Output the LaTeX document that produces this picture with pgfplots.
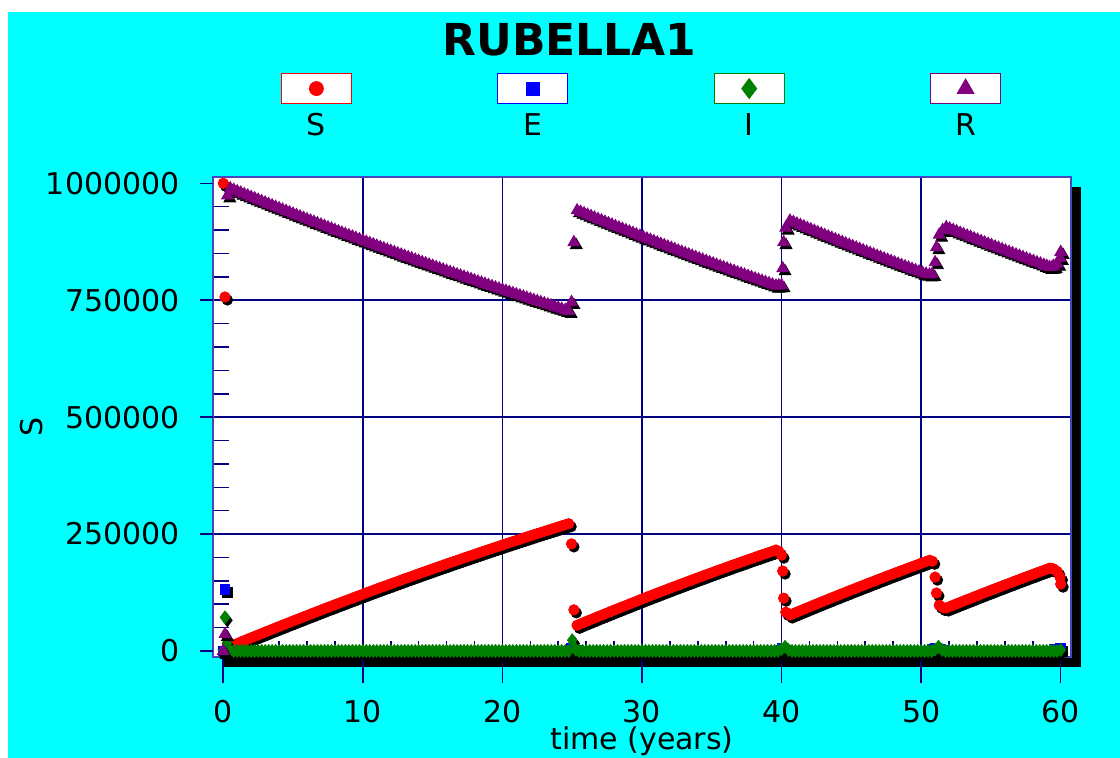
\documentclass[border=0pt]{standalone}
\usepackage{fontspec}
\setmainfont{DejaVu Sans}
\usepackage{pgfplots}
\pgfplotsset{compat=1.18}
\usepackage{pgfplotstable}
\definecolor{bgcyan}{RGB}{0,255,255}
\definecolor{navyc}{RGB}{0,0,128}
\definecolor{framec}{RGB}{70,70,190}
\definecolor{sred}{RGB}{255,0,0}
\definecolor{eblue}{RGB}{0,0,255}
\definecolor{igreen}{RGB}{0,128,0}
\definecolor{rpurple}{RGB}{128,0,128}
\newcommand{\lblfont}{\fontsize{15}{18}\selectfont}
\newcommand{\titlefont}{\fontsize{22}{26}\selectfont\bfseries}

\pgfplotstableread[row sep=\\]{
t v\\
0 1000000\\ 0.12 757000\\ 0.25 8000\\
0.5 10000\\ 0.75 13100\\ 1.0 16100\\ 1.25 19200\\ 1.5 22300\\ 1.75 25300\\ 2.0 28400\\ 2.25 31400\\
2.5 34400\\ 2.75 37400\\ 3.0 40400\\ 3.25 43400\\ 3.5 46400\\ 3.75 49400\\ 4.0 52400\\ 4.25 55400\\
4.5 58300\\ 4.75 61300\\ 5.0 64200\\ 5.25 67200\\ 5.5 70100\\ 5.75 73000\\ 6.0 75900\\ 6.25 78800\\
6.5 81700\\ 6.75 84600\\ 7.0 87500\\ 7.25 90400\\ 7.5 93300\\ 7.75 96100\\ 8.0 99000\\ 8.25 101800\\
8.5 104600\\ 8.75 107500\\ 9.0 110300\\ 9.25 113100\\ 9.5 115900\\ 9.75 118700\\ 10.0 121500\\ 10.25 124300\\
10.5 127100\\ 10.75 129850\\ 11.0 132600\\ 11.25 135350\\ 11.5 138100\\ 11.75 140800\\ 12.0 143500\\ 12.25 146250\\
12.5 149000\\ 12.75 151700\\ 13.0 154400\\ 13.25 157050\\ 13.5 159700\\ 13.75 162400\\ 14.0 165100\\ 14.25 167750\\
14.5 170400\\ 14.75 173000\\ 15.0 175600\\ 15.25 178250\\ 15.5 180900\\ 15.75 183500\\ 16.0 186100\\ 16.25 188700\\
16.5 191300\\ 16.75 193850\\ 17.0 196400\\ 17.25 198950\\ 17.5 201500\\ 17.75 204050\\ 18.0 206600\\ 18.25 209150\\
18.5 211700\\ 18.75 214200\\ 19.0 216700\\ 19.25 219200\\ 19.5 221700\\ 19.75 224200\\ 20.0 226700\\ 20.25 229150\\
20.5 231600\\ 20.75 234050\\ 21.0 236500\\ 21.25 238950\\ 21.5 241400\\ 21.75 243800\\ 22.0 246200\\ 22.25 248600\\
22.5 251000\\ 22.75 253400\\ 23.0 255800\\ 23.25 258150\\ 23.5 260500\\ 23.75 262850\\ 24.0 265200\\ 24.25 267550\\
24.5 269900\\ 24.75 272200\\
24.95 229000\\ 25.12 88000\\
25.35 55000\\ 25.6 58100\\ 25.85 61200\\ 26.1 64300\\ 26.35 67350\\ 26.6 70400\\ 26.85 73500\\ 27.1 76500\\
27.35 79500\\ 27.6 82600\\ 27.85 85600\\ 28.1 88600\\ 28.35 91600\\ 28.6 94550\\ 28.85 97500\\ 29.1 100450\\
29.35 103400\\ 29.6 106350\\ 29.85 109300\\ 30.1 112250\\ 30.35 115200\\ 30.6 118050\\ 30.85 120900\\ 31.1 123800\\
31.35 126700\\ 31.6 129550\\ 31.85 132400\\ 32.1 135250\\ 32.35 138100\\ 32.6 140900\\ 32.85 143700\\ 33.1 146500\\
33.35 149300\\ 33.6 152100\\ 33.85 154900\\ 34.1 157650\\ 34.35 160400\\ 34.6 163150\\ 34.85 165900\\ 35.1 168600\\
35.35 171300\\ 35.6 174000\\ 35.85 176700\\ 36.1 179400\\ 36.35 182100\\ 36.6 184750\\ 36.85 187400\\ 37.1 190000\\
37.35 192600\\ 37.6 195250\\ 37.85 197900\\ 38.1 200500\\ 38.35 203100\\ 38.6 205650\\ 38.85 208200\\ 39.1 210750\\
39.35 213300\\ 39.6 216000\\ 39.8 213000\\ 40.0 205000\\ 40.08 171000\\ 40.15 113000\\ 40.3 83000\\
40.6 77000\\ 40.85 80100\\ 41.1 83200\\ 41.35 86300\\ 41.6 89400\\ 41.85 92500\\ 42.1 95600\\ 42.35 98650\\
42.6 101700\\ 42.85 104750\\ 43.1 107800\\ 43.35 110800\\ 43.6 113800\\ 43.85 116800\\ 44.1 119800\\ 44.35 122750\\
44.6 125700\\ 44.85 128650\\ 45.1 131600\\ 45.35 134550\\ 45.6 137500\\ 45.85 140400\\ 46.1 143300\\ 46.35 146200\\
46.6 149100\\ 46.85 152000\\ 47.1 154900\\ 47.35 157750\\ 47.6 160600\\ 47.85 163450\\ 48.1 166300\\ 48.35 169100\\
48.6 171900\\ 48.85 174700\\ 49.1 177500\\ 49.35 180250\\ 49.6 183000\\ 49.85 185750\\ 50.1 188500\\ 50.35 191250\\
50.6 194000\\ 50.8 192000\\ 51.0 158000\\ 51.1 124000\\ 51.3 98000\\ 51.55 93000\\
51.8 92000\\ 52.05 95000\\ 52.3 98000\\ 52.55 101000\\ 52.8 104000\\ 53.05 106950\\ 53.3 109900\\ 53.55 112850\\
53.8 115800\\ 54.05 118750\\ 54.3 121700\\ 54.55 124600\\ 54.8 127500\\ 55.05 130400\\ 55.3 133300\\ 55.55 136150\\
55.8 139000\\ 56.05 141850\\ 56.3 144700\\ 56.55 147550\\ 56.8 150400\\ 57.05 153200\\ 57.3 156000\\ 57.55 158800\\
57.8 161600\\ 58.05 164350\\ 58.3 167100\\ 58.55 169850\\ 58.8 172600\\ 59.0 174800\\ 59.2 177000\\ 59.4 176500\\
59.5 175000\\ 59.75 170000\\ 59.95 158000\\ 60.0 143000\\
}\Sdata

\pgfplotstableread[row sep=\\]{
t v\\
0 0\\ 0.12 132000\\ 0.25 3000\\ 0.5 0\\ 24.95 6000\\ 25.12 9000\\ 25.35 2000\\
40.0 2000\\ 40.08 5000\\ 40.15 6000\\ 40.3 2000\\ 50.8 3000\\ 51.0 5000\\ 51.1 6000\\ 51.3 4000\\
51.55 2000\\ 59.5 3000\\ 59.75 4000\\ 59.95 5000\\ 60.0 5000\\
}\Edata

\pgfplotstableread[row sep=\\]{
t v\\
0 0\\ 0.12 72000\\ 0.25 17000\\ 0.4 3000\\
0.5 0\\ 0.75 0\\ 1 0\\ 1.25 0\\ 1.5 0\\ 1.75 0\\ 2 0\\ 2.25 0\\ 2.5 0\\ 2.75 0\\
3 0\\ 3.25 0\\ 3.5 0\\ 3.75 0\\ 4 0\\ 4.25 0\\ 4.5 0\\ 4.75 0\\ 5 0\\ 5.25 0\\ 5.5 0\\ 5.75 0\\
6 0\\ 6.25 0\\ 6.5 0\\ 6.75 0\\ 7 0\\ 7.25 0\\ 7.5 0\\ 7.75 0\\ 8 0\\ 8.25 0\\ 8.5 0\\ 8.75 0\\
9 0\\ 9.25 0\\ 9.5 0\\ 9.75 0\\ 10 0\\ 10.25 0\\ 10.5 0\\ 10.75 0\\ 11 0\\ 11.25 0\\ 11.5 0\\ 11.75 0\\
12 0\\ 12.25 0\\ 12.5 0\\ 12.75 0\\ 13 0\\ 13.25 0\\ 13.5 0\\ 13.75 0\\ 14 0\\ 14.25 0\\ 14.5 0\\ 14.75 0\\
15 0\\ 15.25 0\\ 15.5 0\\ 15.75 0\\ 16 0\\ 16.25 0\\ 16.5 0\\ 16.75 0\\ 17 0\\ 17.25 0\\ 17.5 0\\ 17.75 0\\
18 0\\ 18.25 0\\ 18.5 0\\ 18.75 0\\ 19 0\\ 19.25 0\\ 19.5 0\\ 19.75 0\\ 20 0\\ 20.25 0\\ 20.5 0\\ 20.75 0\\
21 0\\ 21.25 0\\ 21.5 0\\ 21.75 0\\ 22 0\\ 22.25 0\\ 22.5 0\\ 22.75 0\\ 23 0\\ 23.25 0\\ 23.5 0\\ 23.75 0\\
24 0\\ 24.25 0\\ 24.5 0\\ 24.75 0\\ 25 23000\\ 25.25 3000\\ 25.5 0\\ 25.75 0\\ 26 0\\ 26.25 0\\ 26.5 0\\ 26.75 0\\
27 0\\ 27.25 0\\ 27.5 0\\ 27.75 0\\ 28 0\\ 28.25 0\\ 28.5 0\\ 28.75 0\\ 29 0\\ 29.25 0\\ 29.5 0\\ 29.75 0\\
30 0\\ 30.25 0\\ 30.5 0\\ 30.75 0\\ 31 0\\ 31.25 0\\ 31.5 0\\ 31.75 0\\ 32 0\\ 32.25 0\\ 32.5 0\\ 32.75 0\\
33 0\\ 33.25 0\\ 33.5 0\\ 33.75 0\\ 34 0\\ 34.25 0\\ 34.5 0\\ 34.75 0\\ 35 0\\ 35.25 0\\ 35.5 0\\ 35.75 0\\
36 0\\ 36.25 0\\ 36.5 0\\ 36.75 0\\ 37 0\\ 37.25 0\\ 37.5 0\\ 37.75 0\\ 38 0\\ 38.25 0\\ 38.5 0\\ 38.75 0\\
39 0\\ 39.25 0\\ 39.5 0\\ 39.75 0\\ 40 4000\\ 40.25 9000\\ 40.5 2000\\ 40.75 0\\ 41 0\\ 41.25 0\\ 41.5 0\\ 41.75 0\\
42 0\\ 42.25 0\\ 42.5 0\\ 42.75 0\\ 43 0\\ 43.25 0\\ 43.5 0\\ 43.75 0\\ 44 0\\ 44.25 0\\ 44.5 0\\ 44.75 0\\
45 0\\ 45.25 0\\ 45.5 0\\ 45.75 0\\ 46 0\\ 46.25 0\\ 46.5 0\\ 46.75 0\\ 47 0\\ 47.25 0\\ 47.5 0\\ 47.75 0\\
48 0\\ 48.25 0\\ 48.5 0\\ 48.75 0\\ 49 0\\ 49.25 0\\ 49.5 0\\ 49.75 0\\ 50 0\\ 50.25 0\\ 50.5 0\\ 50.75 0\\
51 3000\\ 51.25 9000\\ 51.5 2000\\ 51.75 0\\ 52 0\\ 52.25 0\\ 52.5 0\\ 52.75 0\\ 53 0\\ 53.25 0\\ 53.5 0\\ 53.75 0\\
54 0\\ 54.25 0\\ 54.5 0\\ 54.75 0\\ 55 0\\ 55.25 0\\ 55.5 0\\ 55.75 0\\ 56 0\\ 56.25 0\\ 56.5 0\\ 56.75 0\\
57 0\\ 57.25 0\\ 57.5 0\\ 57.75 0\\ 58 0\\ 58.25 0\\ 58.5 0\\ 58.75 0\\ 59 0\\ 59.25 0\\ 59.5 0\\ 59.75 0\\
60 2000\\
}\Idata

\pgfplotstableread[row sep=\\]{
t v\\
0 0\\ 0.12 36000\\ 0.3 974000\\
0.5 989000\\ 0.75 985900\\ 1.0 982900\\ 1.25 979800\\ 1.5 976700\\ 1.75 973700\\ 2.0 970600\\ 2.25 967600\\
2.5 964600\\ 2.75 961600\\ 3.0 958600\\ 3.25 955600\\ 3.5 952600\\ 3.75 949600\\ 4.0 946600\\ 4.25 943600\\
4.5 940700\\ 4.75 937700\\ 5.0 934800\\ 5.25 931800\\ 5.5 928900\\ 5.75 926000\\ 6.0 923100\\ 6.25 920200\\
6.5 917300\\ 6.75 914400\\ 7.0 911500\\ 7.25 908600\\ 7.5 905700\\ 7.75 902900\\ 8.0 900000\\ 8.25 897200\\
8.5 894400\\ 8.75 891500\\ 9.0 888700\\ 9.25 885900\\ 9.5 883100\\ 9.75 880300\\ 10.0 877500\\ 10.25 874700\\
10.5 871900\\ 10.75 869150\\ 11.0 866400\\ 11.25 863650\\ 11.5 860900\\ 11.75 858200\\ 12.0 855500\\ 12.25 852750\\
12.5 850000\\ 12.75 847300\\ 13.0 844600\\ 13.25 841950\\ 13.5 839300\\ 13.75 836600\\ 14.0 833900\\ 14.25 831250\\
14.5 828600\\ 14.75 826000\\ 15.0 823400\\ 15.25 820750\\ 15.5 818100\\ 15.75 815500\\ 16.0 812900\\ 16.25 810300\\
16.5 807700\\ 16.75 805150\\ 17.0 802600\\ 17.25 800050\\ 17.5 797500\\ 17.75 794950\\ 18.0 792400\\ 18.25 789850\\
18.5 787300\\ 18.75 784800\\ 19.0 782300\\ 19.25 779800\\ 19.5 777300\\ 19.75 774800\\ 20.0 772300\\ 20.25 769850\\
20.5 767400\\ 20.75 764950\\ 21.0 762500\\ 21.25 760050\\ 21.5 757600\\ 21.75 755200\\ 22.0 752800\\ 22.25 750400\\
22.5 748000\\ 22.75 745600\\ 23.0 743200\\ 23.25 740850\\ 23.5 738500\\ 23.75 736150\\ 24.0 733800\\ 24.25 731450\\
24.5 729100\\ 24.75 726800\\
24.95 746000\\ 25.12 874000\\
25.35 942000\\ 25.6 938900\\ 25.85 935800\\ 26.1 932700\\ 26.35 929650\\ 26.6 926600\\ 26.85 923500\\ 27.1 920500\\
27.35 917500\\ 27.6 914400\\ 27.85 911400\\ 28.1 908400\\ 28.35 905400\\ 28.6 902450\\ 28.85 899500\\ 29.1 896550\\
29.35 893600\\ 29.6 890650\\ 29.85 887700\\ 30.1 884750\\ 30.35 881800\\ 30.6 878950\\ 30.85 876100\\ 31.1 873200\\
31.35 870300\\ 31.6 867450\\ 31.85 864600\\ 32.1 861750\\ 32.35 858900\\ 32.6 856100\\ 32.85 853300\\ 33.1 850500\\
33.35 847700\\ 33.6 844900\\ 33.85 842100\\ 34.1 839350\\ 34.35 836600\\ 34.6 833850\\ 34.85 831100\\ 35.1 828400\\
35.35 825700\\ 35.6 823000\\ 35.85 820300\\ 36.1 817600\\ 36.35 814900\\ 36.6 812250\\ 36.85 809600\\ 37.1 807000\\
37.35 804400\\ 37.6 801750\\ 37.85 799100\\ 38.1 796500\\ 38.35 793900\\ 38.6 791350\\ 38.85 788800\\ 39.1 786250\\
39.35 783700\\ 39.6 781000\\ 39.8 781500\\ 40.0 782000\\ 40.08 818000\\ 40.15 874000\\ 40.3 905000\\
40.6 920000\\ 40.85 916900\\ 41.1 913800\\ 41.35 910700\\ 41.6 907600\\ 41.85 904500\\ 42.1 901400\\ 42.35 898350\\
42.6 895300\\ 42.85 892250\\ 43.1 889200\\ 43.35 886200\\ 43.6 883200\\ 43.85 880200\\ 44.1 877200\\ 44.35 874250\\
44.6 871300\\ 44.85 868350\\ 45.1 865400\\ 45.35 862450\\ 45.6 859500\\ 45.85 856600\\ 46.1 853700\\ 46.35 850800\\
46.6 847900\\ 46.85 845000\\ 47.1 842100\\ 47.35 839250\\ 47.6 836400\\ 47.85 833550\\ 48.1 830700\\ 48.35 827900\\
48.6 825100\\ 48.85 822300\\ 49.1 819500\\ 49.35 816750\\ 49.6 814000\\ 49.85 811250\\ 50.1 808500\\ 50.35 806500\\
50.6 805000\\ 50.8 806000\\ 51.0 831000\\ 51.1 863000\\ 51.3 890000\\ 51.55 900000\\
51.8 906000\\ 52.05 903000\\ 52.3 900000\\ 52.55 897000\\ 52.8 894000\\ 53.05 891050\\ 53.3 888100\\ 53.55 885150\\
53.8 882200\\ 54.05 879250\\ 54.3 876300\\ 54.55 873400\\ 54.8 870500\\ 55.05 867600\\ 55.3 864700\\ 55.55 861850\\
55.8 859000\\ 56.05 856150\\ 56.3 853300\\ 56.55 850450\\ 56.8 847600\\ 57.05 844800\\ 57.3 842000\\ 57.55 839200\\
57.8 836400\\ 58.05 833650\\ 58.3 830900\\ 58.55 828150\\ 58.8 825400\\ 59.0 823200\\ 59.2 821000\\ 59.4 821500\\
59.5 823000\\ 59.75 828000\\ 59.95 840000\\ 60.0 853000\\
}\Rdata

\pgfplotsset{
  legbox/.style n args={3}{legend image code/.code={%
    \draw[draw=#1,fill=white,line width=0.6pt] (-17.5pt,-7.5pt) rectangle (17.5pt,7.5pt);
    \draw[only marks,mark size=#2] plot coordinates {(0pt,0pt)};
    \node[text=black,inner sep=0pt,font=\lblfont] at (0pt,-18.5pt) {#3};}},
  shadowmarks/.style={forget plot, only marks, black, mark options={xshift=1.2pt,yshift=-1.5pt}},
}

\begin{document}
\begin{tikzpicture}
\fill[white] (0pt,0pt) rectangle (560pt,-379pt);
\fill[bgcyan] (4pt,-6pt) rectangle (560pt,-379pt);
\fill[black] (111.5pt,-93.5pt) rectangle (540.5pt,-333.5pt);
\begin{axis}[
  at={(106.5pt,-328.5pt)}, anchor=south west,
  scale only axis, width=429pt, height=240pt,
  xmin=-0.738, xmax=60.74, ymin=-12840, ymax=1013500,
  axis background/.style={fill=white},
  axis line style={draw=framec, line width=0.6pt},
  tick pos=left,
  xtick={10,20,30,40,50},
  ytick={250000,500000,750000},
  xticklabels={,,,,}, yticklabels={,,},
  minor xtick={2,4,6,8,12,14,16,18,22,24,26,28,32,34,36,38,42,44,46,48,52,54,56,58},
  minor ytick={50000,100000,150000,200000,300000,350000,400000,450000,550000,600000,650000,700000,800000,850000,900000,950000},
  tick align=inside,
  major tick length=0pt,
  minor tick length=8pt,
  tick style={draw=navyc, line width=0.8pt},
  grid=major,
  major grid style={draw=navyc, line width=0.8pt},
  extra x ticks={0,10,20,30,40,50,60},
  extra x tick labels={0,10,20,30,40,50,60},
  extra x tick style={grid=none, tick align=outside, major tick length=13pt},
  extra y ticks={0,250000,500000,750000,1000000},
  extra y tick labels={0,250000,500000,750000,1000000},
  extra y tick style={grid=none, tick align=outside, major tick length=6.5pt},
  scaled y ticks=false,
  yticklabel style={anchor=east, inner sep=0pt, xshift=-10pt},
  xticklabel style={anchor=north, inner sep=0pt, yshift=-8.5pt},
  ticklabel style={font=\lblfont, text=black},
  title=RUBELLA1,
  every axis title shift=0pt,
  title style={at={(axis description cs:0.4155,1.2854)}, anchor=center, font=\titlefont, inner sep=0pt},
  xlabel={time (years)},
  xlabel style={at={(axis description cs:0.5,-0.1935)}, anchor=base, font=\lblfont, inner sep=0pt},
  ylabel={S},
  ylabel style={at={(axis description cs:-0.211,0.479)}, anchor=center, font=\lblfont, inner sep=0pt},
  legend columns=4,
  legend style={at={(axis description cs:0.5,1.2167)}, anchor=north, draw=none, fill=none,
    inner sep=0pt, outer sep=0pt, column sep=0pt,
    /tikz/every even column/.style={column sep=71.6pt}, nodes={inner sep=0pt}},
  clip=false,
]
\addplot[shadowmarks, mark=*, mark size=2.6pt] table[x=t,y=v] {\Sdata};
\addplot[only marks, color=sred, mark=*, mark size=2.6pt, legbox={sred}{3.5pt}{S}] table[x=t,y=v] {\Sdata};
\addlegendentry{}
\addplot[shadowmarks, mark=square*, mark size=2.4pt] table[x=t,y=v] {\Edata};
\addplot[only marks, color=eblue, mark=square*, mark size=2.4pt, legbox={eblue}{3.2pt}{E}] table[x=t,y=v] {\Edata};
\addlegendentry{}
\addplot[shadowmarks, mark=diamond*, mark size=3.2pt] table[x=t,y=v] {\Idata};
\addplot[only marks, color=igreen, mark=diamond*, mark size=3.2pt, legbox={igreen}{5pt}{I}] table[x=t,y=v] {\Idata};
\addlegendentry{}
\addplot[shadowmarks, mark=triangle*, mark size=3.4pt] table[x=t,y=v] {\Rdata};
\addplot[only marks, color=rpurple, mark=triangle*, mark size=3.4pt, legbox={rpurple}{4.8pt}{R}] table[x=t,y=v] {\Rdata};
\addlegendentry{}
\end{axis}
\pgfresetboundingbox
\useasboundingbox (0pt,0pt) rectangle (560pt,-379pt);
\end{tikzpicture}
\end{document}
